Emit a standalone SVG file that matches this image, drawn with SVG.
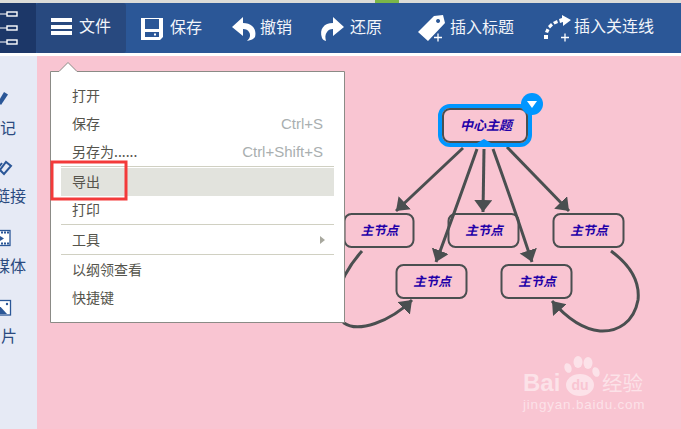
<svg xmlns="http://www.w3.org/2000/svg" width="681" height="429" viewBox="0 0 681 429">
<style>
text{font-family:"Noto Sans CJK SC","Liberation Sans",sans-serif}
.tb{font-size:16px;fill:#f2f5fa}
.sd{font-size:16px;fill:#2b4a80}
.mi{font-size:14px;fill:#55544c}
.sc{font-size:15px;fill:#a9afb0;font-family:"Liberation Sans",sans-serif;text-anchor:end}
.sep{stroke:#d0d0c2;stroke-width:1}
.node{fill:none;stroke:#4a4f50;stroke-width:2}
.nt{font-size:12.500px;font-weight:bold;font-style:italic;fill:#2200a8;text-anchor:middle}
.con{fill:none;stroke:#4a4f50;stroke-width:3}
.ic{fill:#fff}
.wm{fill:#fff;fill-opacity:.5}
</style>
<defs>
<marker id="ah" markerUnits="userSpaceOnUse" markerWidth="14" markerHeight="20" refX="12" refY="9" orient="auto" viewBox="0 0 14 20"><path d="M0,0 L12,9 L0,18 Z" fill="#4a4f50"/></marker>
</defs>
<rect width="681" height="429" fill="#f9c5d2"/>
<rect width="681" height="3" fill="#dcdcd8"/>
<rect x="375" width="24" height="3" fill="#7ab648"/>
<rect y="3" width="681" height="50" fill="#2b5797"/>
<rect y="53" width="681" height="3" fill="#fff"/>
<rect x="0" y="56" width="37" height="373" fill="#e6eaf5"/>
<g id="logo"><rect y="3" width="36" height="50" fill="#1c3768"/>
<path d="M0,14H7M0,28H7M0,42H7" stroke="#fff" stroke-width="1"/>
<g fill="none" stroke="#fff" stroke-width="1.400"><rect x="7" y="12" width="10" height="4"/><rect x="7" y="26" width="10" height="4"/><rect x="7" y="40" width="10" height="4"/></g></g>
<g id="btn-file"><rect x="36" y="3" width="90" height="50" rx="3" fill="#28497f"/>
<path class="ic" d="M51,18h21v4h-21zM51,25h21v4h-21zM51,31h21v4h-21z"/>
<text class="tb" x="79" y="32">文件</text></g>
<g id="btn-save"><path class="ic" fill-rule="evenodd" d="M141,18h22v19l-3,3h-19zM145,19v10h14v-10zM145,32v5h14v-5z"/>
<rect class="ic" x="154" y="33.500" width="2" height="2"/>
<text class="tb" x="170" y="33">保存</text></g>
<g id="btn-undo"><path class="ic" d="M232,27l11,-10v6c9,0 14,6 12,14c-1,2 -4,3 -8,4c3,-3 4,-6 2,-9c-1,-2 -3,-3 -6,-3v7z"/>
<text class="tb" x="260" y="33">撤销</text></g>
<g id="btn-redo"><path class="ic" d="M344,27l-11,-10v6c-9,0 -14,6 -11,15c1,2 2,2 4,3c-1,-4 -1,-6 1,-9c1,-2 3,-3 6,-3v7z"/>
<text class="tb" x="350" y="33">还原</text></g>
<g id="btn-title"><path class="ic" fill-rule="evenodd" d="M418,32l16,-16l9,-1l2,8l-17,18zM438,19a2,2 0 1 0 .1,0z"/>
<path d="M434,37.500h8M438,33.500v8" stroke="#fff" stroke-width="1.300"/>
<text class="tb" x="450" y="33">插入标题</text></g>
<g id="btn-rel"><path class="ic" d="M544,39v-4h4v4zM545,32l1.500,-3.500l3,1.500l-1.500,3zM548,26l3,-3l2,2.500l-3,3zM553,22l4,-2l1,3l-3.500,1.500zM559,19l3,-1v-3l9,5l-8,6v-4l-3,1z"/>
<path d="M561,37.500h8M565,33.500v8" stroke="#fff" stroke-width="1.300"/>
<text class="tb" x="574" y="32">插入关连线</text></g>
<g id="side">
<path d="M-2,102L4,92L8,94.500L1,105z" fill="#2b5797"/>
<text class="sd" x="0" y="134">记</text>
<path d="M0,170l6,-8l5,4l-7,8zM-2,168l4,-5" fill="none" stroke="#2b5797" stroke-width="2"/>
<text class="sd" x="-6" y="202">链接</text>
<rect x="-2" y="230.500" width="12" height="15" fill="#fff" stroke="#2b5797" stroke-width="1.300"/>
<path d="M-2,232.500H10M-2,243.500H10" stroke="#2b5797" stroke-width="2" stroke-dasharray="2 1"/>
<path d="M0,236l4,2.500l-4,2.500z" fill="#2b5797"/>
<text class="sd" x="-6" y="272">媒体</text>
<rect x="-2" y="300.500" width="12.500" height="14.500" fill="#fff" stroke="#2b5797" stroke-width="1.300"/>
<path d="M-2,304l9,10h-9z" fill="#2b5797"/>
<circle cx="7" cy="304" r="1.200" fill="#2b5797"/>
<text class="sd" x="1" y="342">片</text>
</g>
<g id="connectors">
<path class="con" marker-end="url(#ah)" d="M463,148L396,211"/>
<path class="con" marker-end="url(#ah)" d="M484,149L483,212"/>
<path class="con" marker-end="url(#ah)" d="M477,149Q450,225 436,262"/>
<path class="con" marker-end="url(#ah)" d="M493,149Q515,210 532,262"/>
<path class="con" marker-end="url(#ah)" d="M507,147L569,211"/>
<path class="con" marker-end="url(#ah)" d="M362,251Q352,262 345,275C335,295 335,315 344,323C358,333 390,322 412,300"/>
<path class="con" marker-end="url(#ah)" d="M611,251C630,265 640,282 638,300C634,322 618,332 600,331C580,329 565,316 552,301"/>
</g>
<g id="center">
<rect x="440" y="106" width="90" height="39" rx="10" fill="none" stroke="#0096ff" stroke-width="4"/>
<rect x="443" y="109" width="84" height="33" rx="7" class="node"/>
<path d="M477,143l7,-4l7,4z" fill="#0096ff"/>
<text class="nt" x="486" y="130" style="font-size:13px">中心主题</text>
<circle cx="532" cy="104" r="11" fill="#0096ff"/>
<path d="M527,101h10l-5,7z" fill="#fff"/>
</g>
<g id="n1"><rect x="344.500" y="214" width="69" height="33" rx="7" class="node"/><text class="nt" x="379.500" y="235">主节点</text></g>
<g id="n2"><rect x="448.500" y="214" width="70" height="33" rx="7" class="node"/><text class="nt" x="484" y="235">主节点</text></g>
<g id="n3"><rect x="553.500" y="214" width="70" height="33" rx="7" class="node"/><text class="nt" x="589" y="235">主节点</text></g>
<g id="n4"><rect x="396.500" y="265" width="70" height="33" rx="7" class="node"/><text class="nt" x="432" y="286">主节点</text></g>
<g id="n5"><rect x="501.500" y="265" width="70" height="33" rx="7" class="node"/><text class="nt" x="537" y="286">主节点</text></g>
<g id="menu">
<path d="M50.500,71.500H59L68,62.500L77,71.500H344.500V322.500H50.500Z" fill="#fff" stroke="#8b8b86"/>
<text class="mi" x="72" y="101">打开</text>
<text class="mi" x="72" y="129">保存</text>
<text class="sc" x="323" y="129">Ctrl+S</text>
<text class="mi" x="72" y="157">另存为......</text>
<text class="sc" x="323" y="157">Ctrl+Shift+S</text>
<path class="sep" d="M61,166.500H334M61,224.500H334M61,254.500H334"/>
<rect x="61" y="168" width="273" height="28" fill="#e2e3dd"/>
<text class="mi" x="72" y="187">导出</text>
<text class="mi" x="72" y="215">打印</text>
<text class="mi" x="72" y="245">工具</text>
<path d="M320,236l5,4l-5,4z" fill="#a8a89e"/>
<text class="mi" x="72" y="275">以纲领查看</text>
<text class="mi" x="72" y="303">快捷键</text>
</g>
<rect x="52" y="162" width="74" height="37" fill="none" stroke="#f33a3a" stroke-width="3"/>
<g id="watermark">
<text class="wm" x="523" y="391" style="font-size:24px;font-weight:bold;font-family:'Liberation Sans',sans-serif">Bai</text>
<ellipse class="wm" cx="568" cy="368" rx="3.500" ry="5" transform="rotate(-20 568 368)"/>
<ellipse class="wm" cx="578" cy="362" rx="4.500" ry="6"/>
<ellipse class="wm" cx="588" cy="363" rx="4.500" ry="6"/>
<ellipse class="wm" cx="596" cy="372" rx="3.500" ry="5" transform="rotate(-20 596 372)"/>
<ellipse class="wm" cx="580" cy="385" rx="14" ry="11"/>
<text x="580" y="390" text-anchor="middle" style="font-size:14px;font-weight:bold;font-family:'Liberation Sans',sans-serif;fill:#f9c5d2">du</text>
<text class="wm" x="602" y="391" style="font-size:20.500px">经验</text>
<text class="wm" x="523" y="409" style="font-size:13.500px;letter-spacing:.8px;font-family:'Liberation Sans',sans-serif">jingyan.baidu.com</text>
</g>
</svg>
